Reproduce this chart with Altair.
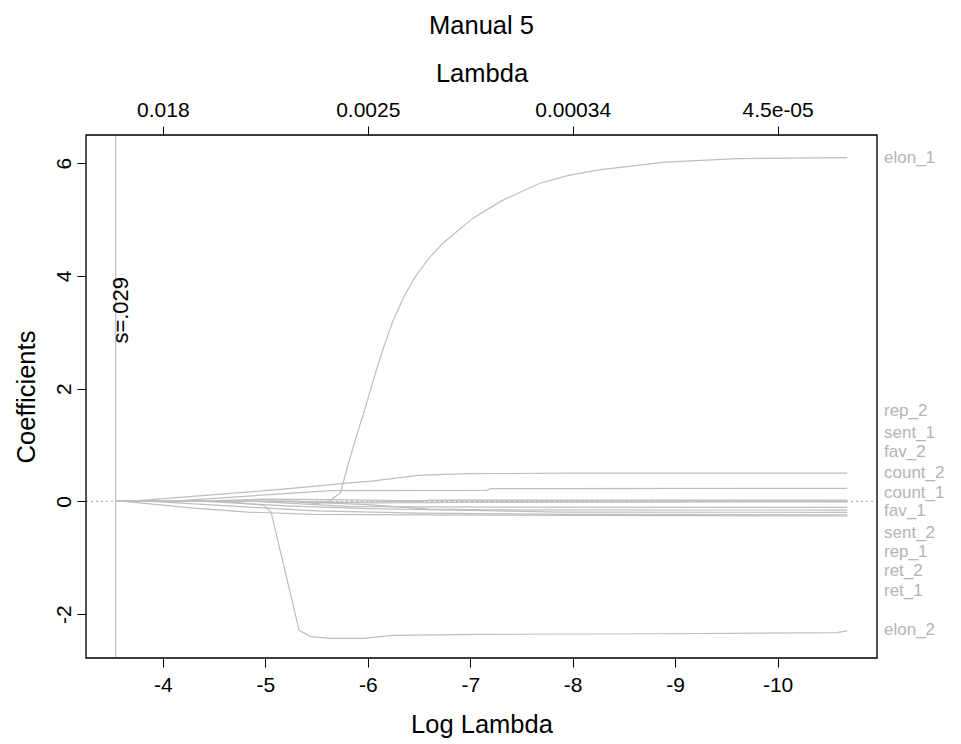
import altair as alt
import pandas as pd

# ---------------- data ----------------
# coefficient paths (x = log(lambda), y = coefficient)
elon_1_L = [-3.54, -5.30, -5.50, -5.618, -5.734, -5.80, -5.88, -5.977, -6.074, -6.16, -6.248, -6.35, -6.461, -6.60, -6.733, -7.023, -7.314, -7.672, -7.95, -8.254, -8.903, -9.61, -10.68]
elon_1_c = [0.0, 0.0, -0.04, 0.0, 0.15, 0.60, 1.10, 1.67, 2.27, 2.76, 3.21, 3.62, 3.98, 4.32, 4.58, 5.02, 5.34, 5.64, 5.78, 5.88, 6.02, 6.08, 6.10]

elon_2_L = [-3.54, -4.60, -4.98, -5.056, -5.33, -5.44, -5.64, -5.95, -6.25, -7.09, -8.84, -10.58, -10.68]
elon_2_c = [0.0, 0.0, -0.07, -0.19, -2.29, -2.40, -2.43, -2.43, -2.38, -2.36, -2.35, -2.33, -2.30]

rep_2_L = [-3.54, -3.67, -4.5, -5.0, -5.5, -5.76, -6.04, -6.22, -6.49, -6.97, -7.99, -10.68]
rep_2_c = [0.0, 0.0, 0.12, 0.19, 0.27, 0.32, 0.36, 0.40, 0.46, 0.49, 0.50, 0.50]

sent_1_L = [-3.54, -4.06, -5.64, -7.16, -7.20, -10.68]
sent_1_c = [0.0, 0.0, 0.19, 0.195, 0.225, 0.23]

fav_2_L = [-3.54, -5.0, -5.8, -6.5, -6.6, -10.68]
fav_2_c = [0.0, 0.0, -0.02, 0.0, 0.02, 0.02]

count_2_L = [-3.54, -4.3, -5.0, -5.6, -6.5, -10.68]
count_2_c = [0.0, 0.0, 0.04, 0.03, 0.01, 0.0]

count_1_L = [-3.54, -5.3, -6.0, -7.0, -10.68]
count_1_c = [0.0, 0.0, -0.03, -0.02, -0.01]

fav_1_L = [-3.54, -4.9, -5.4, -5.8, -6.5, -10.68]
fav_1_c = [0.0, 0.0, -0.05, -0.09, -0.10, -0.107]

sent_2_L = [-3.54, -5.2, -6.0, -6.6, -7.2, -10.68]
sent_2_c = [0.0, 0.0, -0.06, -0.14, -0.15, -0.155]

rep_1_L = [-3.54, -4.4, -5.2, -6.0, -7.0, -7.9, -10.68]
rep_1_c = [0.0, 0.0, -0.08, -0.13, -0.16, -0.19, -0.195]

ret_2_L = [-3.54, -3.9, -4.8, -5.5, -6.5, -8.0, -10.68]
ret_2_c = [0.0, 0.0, -0.10, -0.17, -0.21, -0.23, -0.24]

ret_1_L = [-3.54, -3.62, -4.3, -4.83, -5.47, -7.0, -10.68]
ret_1_c = [0.0, 0.0, -0.12, -0.19, -0.23, -0.245, -0.26]

# variable labels on the right and their (spread-out) vertical positions
label_names = ["elon_1", "rep_2", "sent_1", "fav_2", "count_2", "count_1",
               "fav_1", "sent_2", "rep_1", "ret_2", "ret_1", "elon_2"]
label_y = [6.10, 1.60, 1.22, 0.88, 0.50, 0.155, -0.18, -0.555, -0.90, -1.245, -1.59, -2.29]

# axes
x_domain = [-10.97, -3.25]
y_domain = [-2.78, 6.50]
bottom_ticks = [-4, -5, -6, -7, -8, -9, -10]
top_tick_pos = [-4, -6, -8, -10]
top_tick_labels = ["0.018", "0.0025", "0.00034", "4.5e-05"]
y_ticks = [-2, 0, 2, 4, 6]
s_log_lambda = -3.54
s_text_y = 3.39
s_label = "s=.029"

# ---------------- build tables ----------------
paths = {
    "elon_1": (elon_1_L, elon_1_c), "elon_2": (elon_2_L, elon_2_c),
    "rep_2": (rep_2_L, rep_2_c), "sent_1": (sent_1_L, sent_1_c),
    "fav_2": (fav_2_L, fav_2_c), "count_2": (count_2_L, count_2_c),
    "count_1": (count_1_L, count_1_c), "fav_1": (fav_1_L, fav_1_c),
    "sent_2": (sent_2_L, sent_2_c), "rep_1": (rep_1_L, rep_1_c),
    "ret_2": (ret_2_L, ret_2_c), "ret_1": (ret_1_L, ret_1_c),
}
rows = []
for name, (Ls, cs) in paths.items():
    for i, (l, c) in enumerate(zip(Ls, cs)):
        rows.append({"var": name, "logLambda": l, "coef": c, "order": i})
df = pd.DataFrame(rows)
labels_df = pd.DataFrame({"name": label_names, "y": label_y})

FONT = "Liberation Sans"
W, H = 791, 523
LINE = "#BEBEBE"
TICK_FS = 21
TITLE_FS = 25.5
TICK_LEN = 9
HYPHEN = "datum.value < 0 ? '-' + toString(-datum.value) : toString(datum.value)"

xs = alt.Scale(domain=x_domain, reverse=True, nice=False, zero=False)
ys = alt.Scale(domain=y_domain, nice=False, zero=False)

bottom_axis = alt.Axis(values=bottom_ticks, title="Log Lambda", orient="bottom",
                       grid=False, domain=False, tickSize=TICK_LEN, tickColor="black",
                       labelColor="black", labelFontSize=TICK_FS, labelFont=FONT,
                       labelPadding=7, labelExpr=HYPHEN, titleFont=FONT,
                       titleFontSize=TITLE_FS, titleFontWeight="normal",
                       titleColor="black", titlePadding=17, labelFlush=False)
left_axis = alt.Axis(values=y_ticks, title="Coefficients", orient="left",
                     grid=False, domain=False, tickSize=TICK_LEN, tickColor="black",
                     labelColor="black", labelFontSize=TICK_FS, labelFont=FONT,
                     labelAngle=270, labelAlign="center", labelBaseline="bottom",
                     labelPadding=3, labelExpr=HYPHEN, titleFont=FONT,
                     titleFontSize=TITLE_FS, titleFontWeight="normal",
                     titleColor="black", titlePadding=14, labelFlush=False)

label_expr = "".join(
    f"datum.value == {p} ? '{t}' : " for p, t in zip(top_tick_pos, top_tick_labels)
) + "''"
top_axis = alt.Axis(values=top_tick_pos, title="Lambda", orient="top",
                    grid=False, domain=False, tickSize=TICK_LEN, tickColor="black",
                    labelColor="black", labelFontSize=TICK_FS, labelFont=FONT,
                    labelPadding=6, labelExpr=label_expr, titleFont=FONT,
                    titleFontSize=TITLE_FS, titleFontWeight="normal",
                    titleColor="black", titlePadding=13, labelFlush=False)

lines = alt.Chart(df).mark_line(color=LINE, strokeWidth=1.2, clip=True).encode(
    x=alt.X("logLambda:Q", scale=xs, axis=bottom_axis),
    y=alt.Y("coef:Q", scale=ys, axis=left_axis),
    detail="var:N",
    order="order:Q",
)

zero_line = alt.Chart(pd.DataFrame({"y": [0]})).mark_rule(
    color="#9E9E9E", strokeDash=[2, 3], strokeWidth=1).encode(
    y=alt.Y("y:Q", scale=ys, axis=left_axis),
    x=alt.value(0), x2=alt.value(W),
)

s_rule = alt.Chart(pd.DataFrame({"x": [s_log_lambda]})).mark_rule(
    color=LINE, strokeWidth=1.2).encode(
    x=alt.X("x:Q", scale=xs, axis=top_axis),
    y=alt.value(0), y2=alt.value(H),
)

s_text = alt.Chart(pd.DataFrame({"x": [s_log_lambda], "y": [s_text_y], "t": [s_label]})).mark_text(
    angle=270, align="center", baseline="top", dy=-5, fontSize=22, font=FONT, color="black").encode(
    x=alt.X("x:Q", scale=xs, axis=None),
    y=alt.Y("y:Q", scale=ys, axis=left_axis),
    text="t:N",
)

right_labels = alt.Chart(labels_df).mark_text(
    align="left", baseline="middle", fontSize=17, font=FONT, color="#B4B4B4").encode(
    x=alt.value(W + 7),
    y=alt.Y("y:Q", scale=ys, axis=left_axis),
    text="name:N",
)

box = alt.Chart(pd.DataFrame({"b": [0]})).mark_rect(
    fillOpacity=0, stroke="black", strokeWidth=1.3).encode(
    x=alt.value(0), x2=alt.value(W), y=alt.value(0), y2=alt.value(H),
)

chart = alt.layer(zero_line, lines, s_rule, s_text, right_labels, box).resolve_scale(
    x="independent"
).properties(
    width=W, height=H,
    title=alt.TitleParams("Manual 5", font=FONT, fontSize=TITLE_FS, fontWeight="normal",
                          color="black", anchor="middle", offset=22),
    autosize=alt.AutoSizeParams(type="none"),
    padding={"left": 86, "top": 135, "right": 84, "bottom": 86},
).configure_view(stroke=None).configure(background="white")

chart.save("out.html", embed_options={"renderer": "svg", "actions": False})
